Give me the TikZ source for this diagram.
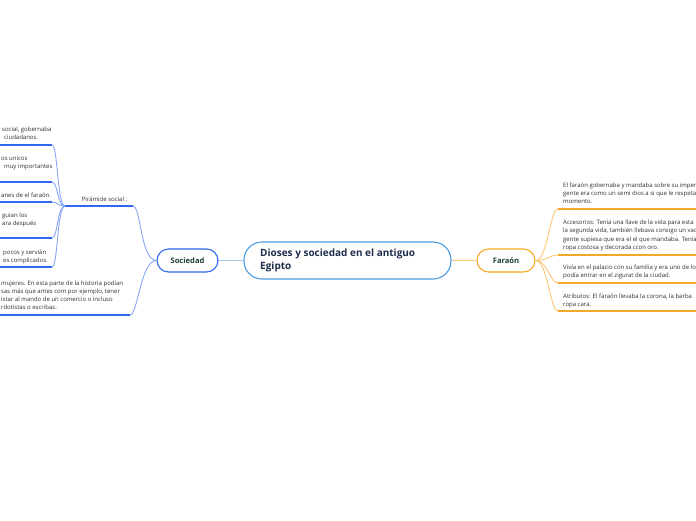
\documentclass[tikz,border=0pt]{standalone}
\usepackage{fontspec}
\setmainfont{Open Sans}
\definecolor{sblue}{HTML}{3366F0}
\definecolor{lblue}{HTML}{86A6F6}
\definecolor{cblue}{HTML}{4A9BE0}
\definecolor{lcblue}{HTML}{9CC6EE}
\definecolor{orng}{HTML}{F7A823}
\definecolor{lorng}{HTML}{FBC874}
\definecolor{dgreen}{HTML}{1B3F30}
\definecolor{navy}{HTML}{1F2D4D}
\definecolor{txt}{HTML}{2E2E2E}
\tikzset{
  small/.style={font=\fontsize{6}{8.3}\selectfont, text=txt, inner sep=0pt, anchor=base west},
  mainbox/.style={draw=cblue, line width=1.1pt, fill=white, rounded corners=18pt,
    minimum width=207pt, minimum height=37pt, inner sep=0pt},
  topicbox/.style={line width=1.1pt, fill=white, rounded corners=11.5pt,
    minimum height=23pt, inner sep=0pt, text=dgreen,
    font=\fontsize{7.6}{8}\selectfont\bfseries},
  bconn/.style={line width=0.9pt, lblue},
  buline/.style={line width=1.8pt, sblue},
  oconn/.style={line width=0.9pt, lorng},
  ouline/.style={line width=1.8pt, orng},
}
\begin{document}
\begin{tikzpicture}[x=1pt, y=-1pt]
\useasboundingbox (0,0) rectangle (696,520);

% central and main topics
\node[mainbox] (c) at (347.5,260.5) {};
\node[anchor=north west, inner sep=0pt, text=navy, align=left,
  font=\fontsize{10}{13}\selectfont\bfseries] (ctext) at (260,249)
  {Dioses y sociedad en el antiguo\\Egipto};
\node[topicbox, draw=sblue, minimum width=61pt] (soc) at (187.5,260.5) {Sociedad};
\node[topicbox, draw=orng, minimum width=58pt] (far) at (506,260.5) {Faraón};

\draw[line width=1.5pt, lcblue] (c.west) -- (soc.east);
\draw[line width=1.5pt, lorng] (c.east) -- (far.west);

% ---- Sociedad side ----
\coordinate (pyrL) at (65,206);
\coordinate (pyrR) at (133,206);
\coordinate (botL) at (0,315);
\coordinate (botR) at (130,315);
\draw[buline] (pyrL) -- (pyrR);
\draw[buline] (botL) -- (botR);
\draw[bconn] (soc.west) .. controls +(-16,0) and +(8,0) .. (pyrR);
\draw[bconn] (soc.west) .. controls +(-16,0) and +(8,0) .. (botR);
\node[font=\fontsize{6}{8.3}\selectfont, text=txt, inner sep=0pt, anchor=base] (pyr) at (104.5,201) {Pirámide social :};

% pyramid children underlines
\foreach \n/\yy in {1/145,2/182,3/202,4/238,5/267}{
  \coordinate (uL\n) at (0,\yy);
  \coordinate (uR\n) at (52,\yy);
  \draw[buline] (uL\n) -- (uR\n);
  \draw[bconn] (pyrL) .. controls +(-8,0) and +(6,0) .. (uR\n);
}

\node[small] (t1a) at (2,131) {social, gobernaba};
\node[small] (t1b) at (4,139) {ciudadanos.};
\node[small] (t2a) at (1,160) {os unicos};
\node[small] (t2b) at (4,168) {muy importantes};
\node[small] (t3)  at (1,197) {anes de el faraón.};
\node[small] (t4a) at (2,217) {guian los};
\node[small] (t4b) at (2,225) {ara después};
\node[small] (t5a) at (3,254) {pocos y servián};
\node[small] (t5b) at (3,262) {es complicados.};
\node[small] (b1) at (1,285) {mujeres. En esta parte de la historia podían};
\node[small] (b2) at (1,293) {sas más que antes com por ejemplo, tener};
\node[small] (b3) at (1,301) {istar al mando de un comercio o incluso};
\node[small] (b4) at (1,309) {rdotistas o escribas.};

% ---- Faraon side ----
\foreach \n/\yy in {1/209,2/255,3/283,4/311}{
  \coordinate (fL\n) at (558,\yy);
  \coordinate (fR\n) at (700,\yy);
  \draw[ouline] (fL\n) -- (fR\n);
  \draw[oconn] (far.east) .. controls +(12,0) and +(-8,0) .. (fL\n);
}

\node[small] (r1a) at (563,187) {El faraón gobernaba y mandaba sobre su imper};
\node[small] (r1b) at (563,195) {gente era como un semi dios a si que le respeta};
\node[small] (r1c) at (563,203) {momento.};
\node[small] (r2a) at (563,224) {Accesorios: Tenía una llave de la vida para esta};
\node[small] (r2b) at (563,232.5) {la segunda vida, también llebava consigo un vac};
\node[small] (r2c) at (563,241) {gente supiesa que era el el que mandaba. Tenía};
\node[small] (r2d) at (563,249) {ropa costosa y decorada ccon oro.};
\node[small] (r3a) at (563,269) {Vivía en el palacio con su familia y era uno de lo};
\node[small] (r3b) at (563,277) {podía entrar en el zigurat de la ciudad.};
\node[small] (r4a) at (563,298) {Atributos: El faraón llevaba la corona, la barba};
\node[small] (r4b) at (563,306) {ropa cara.};
\end{tikzpicture}
\end{document}
